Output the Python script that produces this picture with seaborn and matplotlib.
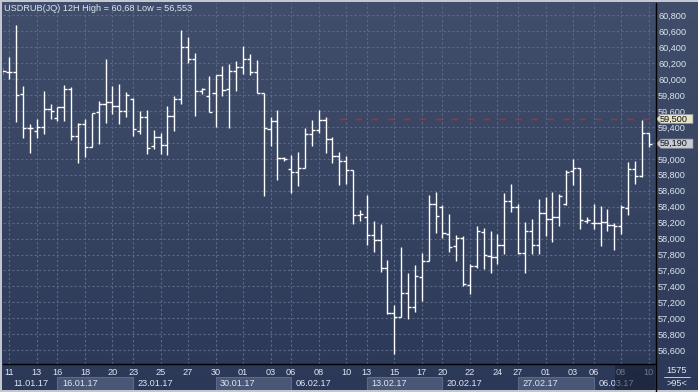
import numpy as np
import matplotlib
matplotlib.use("Agg")
import matplotlib.pyplot as plt
import matplotlib.transforms as mtransforms
from matplotlib.patches import Rectangle, Polygon
from matplotlib.lines import Line2D
import seaborn as sns

# 12H bars, USDRUB
opens = [60.100, 60.085, 60.085, 59.813, 59.382, 59.349, 59.399, 59.621, 59.508, 59.646,
         59.872, 59.282, 59.433, 59.144, 59.587, 59.683, 59.713, 59.663, 59.600, 59.750,
         59.349, 59.520, 59.161, 59.270, 59.169, 59.537, 59.746, 60.398, 60.256, 59.851,
         59.788, 59.821, 60.051, 59.880, 60.097, 60.147, 60.248, 60.085, 59.821, 59.370,
         59.474, 59.006, 58.872, 58.831, 58.881, 59.307, 59.357, 59.483, 59.244, 59.031,
         58.968, 58.856, 58.295, 58.266, 58.045, 57.978, 57.627, 57.071, 57.021, 57.313,
         57.146, 57.514, 57.719, 58.429, 58.400, 58.058, 57.907, 58.012, 57.418, 57.660,
         58.079, 57.786, 57.765, 57.916, 58.476, 58.392, 57.815, 58.091, 57.916, 58.317,
         58.250, 58.267, 58.430, 58.848, 58.885, 58.225, 58.200, 58.191, 58.204, 58.166,
         58.154, 58.388, 58.869, 58.781, 59.320]
highs = [60.150, 60.281, 60.680, 59.913, 59.433, 59.500, 59.851, 59.688, 59.654, 59.922,
         59.905, 59.445, 59.495, 59.571, 59.725, 60.252, 59.913, 59.938, 59.838, 59.759,
         59.600, 59.612, 59.362, 59.320, 59.663, 59.788, 60.616, 60.532, 60.323, 59.884,
         60.039, 60.051, 60.164, 60.189, 60.231, 60.415, 60.314, 60.239, 59.821, 59.520,
         59.612, 59.027, 59.048, 59.081, 59.382, 59.487, 59.612, 59.520, 59.269, 59.086,
         59.035, 58.856, 58.358, 58.546, 58.220, 58.187, 57.731, 57.167, 57.890, 57.564,
         57.668, 57.815, 58.546, 58.588, 58.421, 58.308, 58.045, 58.033, 57.681, 58.158,
         58.129, 58.099, 58.058, 58.576, 58.685, 58.430, 58.208, 58.242, 58.501, 58.526,
         58.584, 58.559, 58.860, 58.994, 58.885, 58.275, 58.434, 58.409, 58.375, 58.191,
         58.417, 58.965, 58.973, 59.487, 59.320]
lows = [60.050, 60.001, 59.466, 59.257, 59.077, 59.257, 59.307, 59.504, 59.474, 59.479,
        59.236, 58.952, 59.027, 59.144, 59.182, 59.445, 59.562, 59.437, 59.529, 59.286,
        59.307, 59.061, 59.128, 59.061, 59.052, 59.353, 59.683, 60.206, 59.537, 59.813,
        59.587, 59.395, 59.792, 59.382, 59.855, 60.064, 60.047, 59.821, 58.538, 59.161,
        58.734, 58.977, 58.576, 58.663, 58.881, 59.161, 59.328, 59.077, 58.952, 58.672,
        58.684, 58.187, 58.224, 57.919, 57.836, 57.585, 57.054, 56.553, 57.012, 56.987,
        57.083, 57.221, 57.719, 58.074, 58.003, 57.836, 57.723, 57.406, 57.305, 57.627,
        57.615, 57.564, 57.681, 57.807, 58.338, 57.807, 57.573, 57.807, 57.807, 58.033,
        57.957, 58.158, 58.417, 58.672, 58.125, 58.200, 58.125, 57.907, 58.099, 57.857,
        58.058, 58.296, 58.685, 58.777, 59.144]
closes = [60.097, 60.085, 59.796, 59.382, 59.382, 59.399, 59.621, 59.600, 59.646, 59.872,
          59.282, 59.433, 59.144, 59.571, 59.683, 59.713, 59.663, 59.600, 59.800, 59.374,
          59.520, 59.132, 59.270, 59.169, 59.537, 59.746, 60.398, 60.256, 59.851, 59.876,
          59.587, 60.051, 59.863, 60.097, 60.147, 60.248, 60.085, 59.821, 59.382, 59.474,
          59.006, 58.994, 58.831, 58.881, 59.307, 59.357, 59.483, 59.244, 59.031, 58.968,
          58.856, 58.295, 58.304, 58.045, 57.978, 57.627, 57.071, 57.021, 57.313, 57.146,
          57.535, 57.719, 58.429, 58.279, 58.066, 57.899, 58.012, 57.426, 57.660, 58.095,
          57.794, 57.765, 57.916, 58.476, 58.392, 57.824, 58.091, 57.916, 58.317, 58.250,
          58.267, 58.538, 58.835, 58.885, 58.233, 58.233, 58.191, 58.204, 58.166, 58.154,
          58.396, 58.869, 58.781, 59.320, 59.190]

day_ticks = [1, 5, 8, 12, 16, 19, 23, 27, 31, 35, 39, 42, 46, 50, 53, 57, 61, 64, 68, 72,
             75, 79, 83, 86, 90, 94]
day_labels = ["11", "13", "16", "18", "20", "23", "25", "27", "30", "01", "03", "06", "08",
              "10", "13", "15", "17", "20", "22", "24", "27", "01", "03", "06", "08", "10"]
week_starts = [1, 8, 19, 31, 42, 53, 64, 75, 86]
week_labels = ["11.01.17", "16.01.17", "23.01.17", "30.01.17", "06.02.17", "13.02.17",
               "20.02.17", "27.02.17", "06.03.17"]
level = 59.5
title = "USDRUB(JQ) 12H High = 60,68 Low = 56,553"

W, H = 698, 392
TXT = "#dfe5f0"

sns.set_theme(style="dark")
plt.rcParams["font.family"] = ["Liberation Sans", "DejaVu Sans"]


def fmt(v):
    return f"{v:.3f}".replace(".", ",")


def draw_chart():
    fig = plt.figure(figsize=(W / 100, H / 100), dpi=100)

    # background gradient
    bg = fig.add_axes([0, 0, 1, 1])
    top = np.array([0x40, 0x4e, 0x6b]) / 255
    bot = np.array([0x2c, 0x38, 0x57]) / 255
    t = np.linspace(0, 1, 256)[:, None, None]
    grad = top * (1 - t) + bot * t
    bg.imshow(grad, aspect="auto", extent=[0, 1, 0, 1])
    bg.set_axis_off()

    ax = fig.add_axes([3 / W, (H - 364) / H, 652 / W, 361 / H])
    ax.set_facecolor("none")
    x = np.arange(len(opens))
    ax.vlines(x, lows, highs, color="white", lw=1.0, zorder=3)
    ax.hlines(opens, x - 0.45, x, color="white", lw=1.0, zorder=3)
    ax.hlines(closes, x, x + 0.45, color="white", lw=1.0, zorder=3)
    ax.hlines(level, 46.6, 95, colors="#c8202c", linestyles=(0, (5, 6.5)), lw=1.0, zorder=2)

    ax.set_xlim(0.08, 94.92)
    ax.set_ylim(56.427, 60.954)

    price_ticks = np.round(np.arange(56.6, 60.81, 0.2), 1)
    ax.set_yticks(price_ticks, [fmt(v) for v in price_ticks])
    ax.yaxis.tick_right()
    ax.set_xticks(day_ticks, day_labels)
    ax.tick_params(axis="y", length=0, pad=2.2, labelsize=6.6, labelcolor=TXT)
    ax.tick_params(axis="x", length=0, pad=2.6, labelsize=6.6, labelcolor=TXT)
    ax.grid(True, color="#5b6988", lw=0.8, linestyle=(0, (2, 2)))
    ax.set_axisbelow(True)
    for s in ax.spines.values():
        s.set_visible(False)

    # week strip
    trans = mtransforms.blended_transform_factory(ax.transData, ax.transAxes)
    y0 = -(390 - 364) / 361
    hb = (390 - 377) / 361
    for i in range(1, len(week_starts) - 1, 2):
        ax.add_patch(Rectangle((week_starts[i], y0), week_starts[i + 1] - week_starts[i], hb,
                               transform=trans, facecolor="#4a5676", edgecolor="#5d6987",
                               lw=0.8, clip_on=False, zorder=1))
    for ws, lab in zip(week_starts, week_labels):
        ax.text(ws + 0.65, -(383.5 - 364) / 361, lab, transform=trans, ha="left", va="center",
                fontsize=6.6, color=TXT, clip_on=False, zorder=2)
    ax.add_patch(Rectangle((89.1, y0), 94.92 - 89.1, -y0, transform=trans,
                           facecolor="#141c30", alpha=0.55, lw=0, clip_on=False, zorder=4))

    # price bubbles
    tr2 = mtransforms.blended_transform_factory(ax.transAxes, ax.transData)
    h = 4.6 / 15.95 * 0.2

    def px(p):
        return (p - 3) / 652

    for val, fc in [(level, "#e6e3c6"), (closes[-1], "#c8ccd4")]:
        pts = [(px(656), val), (px(661), val + h), (px(693), val + h),
               (px(693), val - h), (px(661), val - h)]
        ax.add_patch(Polygon(pts, closed=True, transform=tr2, facecolor=fc,
                             edgecolor="#8a8f99", lw=0.5, clip_on=False, zorder=5))
        ax.text(px(660), val, fmt(val), transform=tr2, ha="left", va="center",
                fontsize=6.6, color="#10131a", clip_on=False, zorder=6)

    # separators and frame
    fig.add_artist(Line2D([655.5 / W] * 2, [0, 1 - 3 / H], color="black", lw=1))
    fig.add_artist(Line2D([3 / W, 655.5 / W], [1 - 364 / H] * 2, color="black", lw=1))
    fig.add_artist(Rectangle((0, 1 - 2 / H), 1, 2 / H, facecolor="#c3c7cf", lw=0))
    fig.add_artist(Rectangle((0, 0), 2 / W, 1, facecolor="#c3c7cf", lw=0))
    fig.add_artist(Rectangle((0, 0), 1, 2 / H, facecolor="#c3c7cf", lw=0))

    fig.text(4 / W, 1 - 8.3 / H, title, ha="left", va="center", fontsize=6.6, color=TXT)
    fig.text(677 / W, 1 - 370.5 / H, "1575", ha="center", va="center", fontsize=6.6, color=TXT)
    fig.add_artist(Line2D([664 / W, 690 / W], [1 - 377 / H] * 2, color=TXT, lw=0.6))
    fig.text(677 / W, 1 - 383.5 / H, ">95<", ha="center", va="center", fontsize=6.6, color=TXT)

    fig.savefig("out.png", dpi=100)


if __name__ == "__main__":
    draw_chart()
